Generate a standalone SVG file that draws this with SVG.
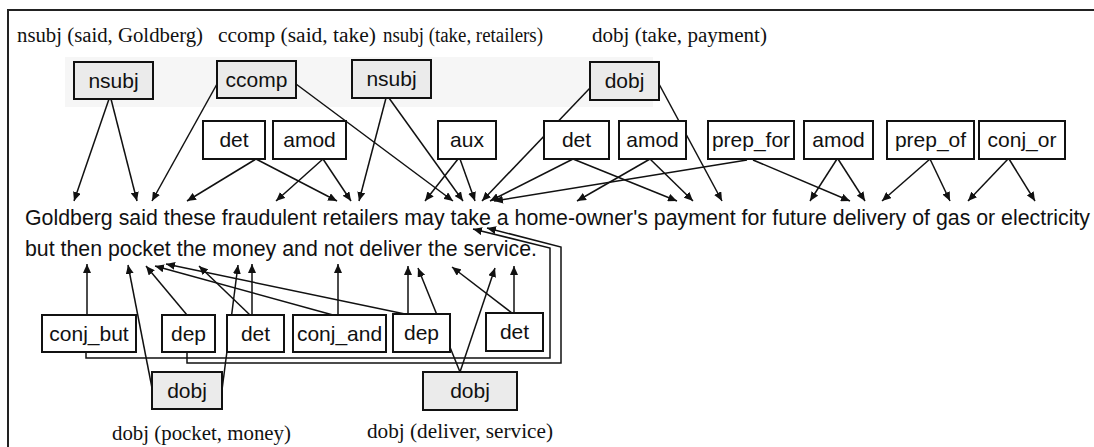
<svg xmlns="http://www.w3.org/2000/svg" width="1094" height="447" viewBox="0 0 1094 447">
  <style>
    .rel { font-family: "Liberation Serif", "Times New Roman", serif; font-size: 20px; fill: #111; }
    .lbl { font-family: "Liberation Sans", Arial, sans-serif; font-size: 21px; fill: #111; text-anchor: middle; }
    .sent { font-family: "Liberation Sans", Arial, sans-serif; font-size: 21.3px; fill: #111; }
    .box { stroke: #111; stroke-width: 2; fill: #fff; }
    .box.gray { fill: #ebebeb; }
    .edge { stroke: #111; stroke-width: 1.5; fill: none; marker-end: url(#head); }
  </style>
  <defs>
    <marker id="head" markerUnits="userSpaceOnUse" markerWidth="9" markerHeight="8" refX="9" refY="4" orient="auto">
      <path d="M0,0 L9,4 L0,8 z" fill="#111"/>
    </marker>
  </defs>

  <rect width="1094" height="447" fill="#fff"/>
  <!-- frame -->
  <path d="M8,447 L8,10 L1094,10" fill="none" stroke="#222" stroke-width="2"/>
  <!-- shaded band behind the upper relation boxes -->
  <rect x="65" y="57" width="588" height="50" fill="#f6f6f6"/>

  <!-- relation captions -->
  <text class="rel" x="17" y="42" textLength="186" lengthAdjust="spacingAndGlyphs">nsubj (said, Goldberg)</text>
  <text class="rel" x="218" y="42" textLength="158" lengthAdjust="spacingAndGlyphs">ccomp (said, take)</text>
  <text class="rel" x="383" y="42" textLength="160" lengthAdjust="spacingAndGlyphs">nsubj (take, retailers)</text>
  <text class="rel" x="592" y="42" textLength="175" lengthAdjust="spacingAndGlyphs">dobj (take, payment)</text>
  <text class="rel" x="112" y="440" textLength="179" lengthAdjust="spacingAndGlyphs">dobj (pocket, money)</text>
  <text class="rel" x="367" y="438" textLength="186" lengthAdjust="spacingAndGlyphs">dobj (deliver, service)</text>

  <!-- sentence -->
  <text class="sent" x="25" y="225" textLength="1065" lengthAdjust="spacingAndGlyphs">Goldberg said these fraudulent retailers may take a home-owner's payment for future delivery of gas or electricity</text>
  <text class="sent" x="25" y="256" textLength="512" lengthAdjust="spacingAndGlyphs">but then pocket the money and not deliver the service.</text>

  <!-- connectors -->
  <g id="connectors">
    <path class="edge" d="M109,99 L74,201"/>
    <path class="edge" d="M111,99 L137,201"/>
    <path class="edge" d="M217,84 L152,201"/>
    <path class="edge" d="M296,84 L453,201"/>
    <path class="edge" d="M386,98 L359,201"/>
    <path class="edge" d="M389,98 L463,201"/>
    <path class="edge" d="M256,159 L187,201"/>
    <path class="edge" d="M256,159 L337,201"/>
    <path class="edge" d="M323,159 L276,201"/>
    <path class="edge" d="M323,159 L351,201"/>
    <path class="edge" d="M458,159 L425,201"/>
    <path class="edge" d="M460,159 L475,201"/>
    <path class="edge" d="M590,88 L482,201"/>
    <path class="edge" d="M659,84 L722,201"/>
    <path class="edge" d="M573,159 L490,201"/>
    <path class="edge" d="M573,159 L677,201"/>
    <path class="edge" d="M650,159 L577,201"/>
    <path class="edge" d="M650,159 L693,201"/>
    <path class="edge" d="M747,160 L494,201"/>
    <path class="edge" d="M753,160 L850,201"/>
    <path class="edge" d="M837,159 L810,201"/>
    <path class="edge" d="M838,159 L865,201"/>
    <path class="edge" d="M930,159 L882,201"/>
    <path class="edge" d="M930,159 L950,201"/>
    <path class="edge" d="M1008,159 L968,201"/>
    <path class="edge" d="M1009,159 L1035,201"/>

    <path class="edge" d="M87,315 L87,264"/>
    <path class="edge" d="M86,352 L86,358 L550,358 L550,248 L473,229"/>
    <path class="edge" d="M187,315 L146,266"/>
    <path class="edge" d="M187,352 L187,363 L561,363 L561,247 L487,228"/>
    <path class="edge" d="M252,315 L252,264"/>
    <path class="edge" d="M250,315 L199,266"/>
    <path class="edge" d="M338,315 L338,264"/>
    <path class="edge" d="M333,315 L155,266"/>
    <path class="edge" d="M408,314 L408,266"/>
    <path class="edge" d="M405,314 L166,264"/>
    <path class="edge" d="M514,313 L514,266"/>
    <path class="edge" d="M512,313 L452,267"/>
    <path class="edge" d="M152,388 L128,265"/>
    <path class="edge" d="M222,390 L238,265"/>
    <path class="edge" d="M460,372 L418,268"/>
    <path class="edge" d="M460,372 L495,268"/>
  </g>

  <!-- upper relation boxes -->
  <g id="nsubj-said"><rect class="box gray" x="74" y="62" width="79" height="37"/><text class="lbl" x="113.5" y="88">nsubj</text></g>
  <g id="ccomp-said"><rect class="box gray" x="217" y="61" width="79" height="37"/><text class="lbl" x="256.5" y="87">ccomp</text></g>
  <g id="nsubj-take"><rect class="box gray" x="352" y="60" width="79" height="38"/><text class="lbl" x="391.5" y="86">nsubj</text></g>
  <g id="dobj-take"><rect class="box gray" x="590" y="62" width="69" height="38"/><text class="lbl" x="624.5" y="88">dobj</text></g>

  <!-- middle row -->
  <g id="det-these"><rect class="box" x="203" y="121" width="62" height="38"/><text class="lbl" x="234" y="147">det</text></g>
  <g id="amod-fraudulent"><rect class="box" x="273" y="121" width="73" height="38"/><text class="lbl" x="309.5" y="147">amod</text></g>
  <g id="aux-may"><rect class="box" x="438" y="121" width="58" height="38"/><text class="lbl" x="467" y="147">aux</text></g>
  <g id="det-a"><rect class="box" x="544" y="121" width="65" height="38"/><text class="lbl" x="576.5" y="147">det</text></g>
  <g id="amod-homeowner"><rect class="box" x="619" y="121" width="67" height="38"/><text class="lbl" x="652.5" y="147">amod</text></g>
  <g id="prep-for"><rect class="box" x="708" y="121" width="86" height="38"/><text class="lbl" x="751" y="147">prep_for</text></g>
  <g id="amod-future"><rect class="box" x="804" y="121" width="69" height="38"/><text class="lbl" x="838.5" y="147">amod</text></g>
  <g id="prep-of"><rect class="box" x="887" y="121" width="87" height="38"/><text class="lbl" x="930.5" y="147">prep_of</text></g>
  <g id="conj-or"><rect class="box" x="979" y="121" width="86" height="38"/><text class="lbl" x="1022" y="147">conj_or</text></g>

  <!-- lower row -->
  <g id="conj-but"><rect class="box" x="42" y="315" width="94" height="37"/><text class="lbl" x="89" y="341">conj_but</text></g>
  <g id="dep-pocket"><rect class="box" x="162" y="315" width="53" height="37"/><text class="lbl" x="188.5" y="341">dep</text></g>
  <g id="det-money"><rect class="box" x="227" y="315" width="57" height="37"/><text class="lbl" x="255.5" y="341">det</text></g>
  <g id="conj-and"><rect class="box" x="293" y="315" width="93" height="37"/><text class="lbl" x="339.5" y="341">conj_and</text></g>
  <g id="dep-deliver"><rect class="box" x="393" y="314" width="57" height="38"/><text class="lbl" x="421.5" y="340">dep</text></g>
  <g id="det-service"><rect class="box" x="486" y="313" width="57" height="38"/><text class="lbl" x="514.5" y="339">det</text></g>

  <!-- lower object boxes -->
  <g id="dobj-pocket"><rect class="box gray" x="152" y="372" width="70" height="37"/><text class="lbl" x="187" y="398">dobj</text></g>
  <g id="dobj-deliver"><rect class="box gray" x="423" y="372" width="94" height="38"/><text class="lbl" x="470" y="398">dobj</text></g>
</svg>
